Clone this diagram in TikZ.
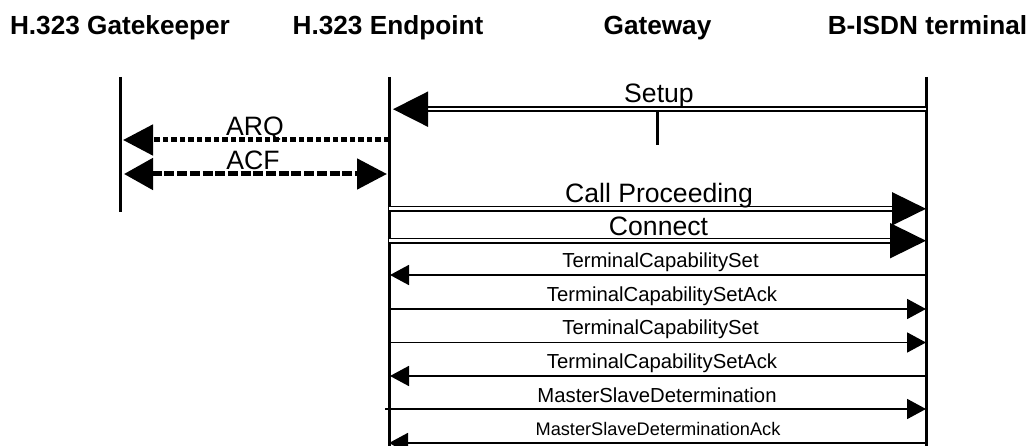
\documentclass[tikz,border=0pt]{standalone}
\usepackage{fontspec}
\setmainfont{Liberation Sans}
\usetikzlibrary{arrows.meta}
\begin{document}
\begin{tikzpicture}[x=1pt,y=-1pt,
  life/.style={line width=3pt},
  hdr/.style={font=\fontsize{26.2}{27}\selectfont\bfseries, anchor=base, inner sep=0pt},
  big/.style={font=\fontsize{26.6}{27}\selectfont, anchor=base, inner sep=0pt},
  small/.style={font=\fontsize{20.3}{21}\selectfont, anchor=base, inner sep=0pt},
  smaller/.style={font=\fontsize{18.2}{19}\selectfont, anchor=base, inner sep=0pt},
  dbl/.style={double, double distance=2.6pt, line width=1.7pt},
  bigtip/.style={-{Triangle[length=35pt,width=35pt]}},
  msg/.style={line width=1.8pt, -{Triangle[length=19pt,width=20pt]}},
  dotmsg/.style={line width=5pt, dash pattern=on 5.5pt off 3pt},
  dashmsg/.style={line width=5pt, dash pattern=on 10pt off 2.7pt},
]
\useasboundingbox (0,0) rectangle (1029,446);

% headers
\node[hdr] (hGK) at (120,35) {H.323 Gatekeeper};
\node[hdr] (hEP) at (388,35) {H.323 Endpoint};
\node[hdr] (hGW) at (657.5,35) {Gateway};
\node[hdr] (hBT) at (927.5,35) {B-ISDN terminal};

% lifelines
\coordinate (gkTop) at (120,77);
\coordinate (gkBot) at (120,212);
\coordinate (epTop) at (389,77);
\coordinate (epBot) at (389,448);
\coordinate (btTop) at (926.5,77);
\coordinate (btBot) at (926.5,448);
\draw[life] (gkTop) -- (gkBot);
\draw[life] (epTop) -- (epBot);
\draw[life] (btTop) -- (btBot);

% Setup
\coordinate (setupR) at (926,109.2);
\coordinate (setupL) at (393,109.2);
\draw[dbl, bigtip] (setupR) -- (setupL);
\node[big] (lSetup) at (659,103) {Setup};
\coordinate (tickT) at (657.7,111);
\coordinate (tickB) at (657.7,145);
\draw[line width=2.5pt] (tickT) -- (tickB);

% ARQ
\coordinate (arqR) at (389,140);
\coordinate (arqL) at (123,140);
\draw[dotmsg, -{Triangle[length=30pt,width=30pt]}] (arqR) -- (arqL);
\node[big] (lARQ) at (255,136) {ARQ};

% ACF
\coordinate (acfL) at (124,174);
\coordinate (acfR) at (387,174);
\draw[dashmsg, {Triangle[length=29pt,width=31pt]}-{Triangle[length=30pt,width=30pt]}] (acfL) -- (acfR);
\node[big] (lACF) at (253,170) {ACF};

% Call Proceeding
\coordinate (cpL) at (389,208.8);
\coordinate (cpR) at (926,208.8);
\draw[dbl, -{Triangle[length=34pt,width=33pt]}] (cpL) -- (cpR);
\node[big] (lCP) at (659,202.7) {Call Proceeding};

% Connect
\coordinate (cnL) at (389,240.7);
\coordinate (cnR) at (926,240.7);
\draw[dbl, -{Triangle[length=36pt,width=35pt]}] (cnL) -- (cnR);
\node[big] (lCN) at (658.5,236) {Connect};

% small messages
\coordinate (m1R) at (926,275);   \coordinate (m1L) at (390,275);
\coordinate (m2L) at (389,309);   \coordinate (m2R) at (926,309);
\coordinate (m3L) at (389,342.5); \coordinate (m3R) at (926,342.5);
\coordinate (m4R) at (926,376);   \coordinate (m4L) at (390,376);
\coordinate (m5L) at (385,409);   \coordinate (m5R) at (926,409);
\coordinate (m6R) at (926,443);   \coordinate (m6L) at (389,443);

\draw[msg] (m1R) -- (m1L);
\draw[msg] (m2L) -- (m2R);
\draw[msg] (m3L) -- (m3R);
\draw[msg] (m4R) -- (m4L);
\draw[msg] (m5L) -- (m5R);
\draw[msg] (m6R) -- (m6L);

\node[small] (l1) at (660.5,268) {TerminalCapabilitySet};
\node[small] (l2) at (662,301.7) {TerminalCapabilitySetAck};
\node[small] (l3) at (660.5,335) {TerminalCapabilitySet};
\node[small] (l4) at (662,368.5) {TerminalCapabilitySetAck};
\node[small] (l5) at (657,402.7) {MasterSlaveDetermination};
\node[smaller] (l6) at (658,435.3) {MasterSlaveDeterminationAck};
\end{tikzpicture}
\end{document}
